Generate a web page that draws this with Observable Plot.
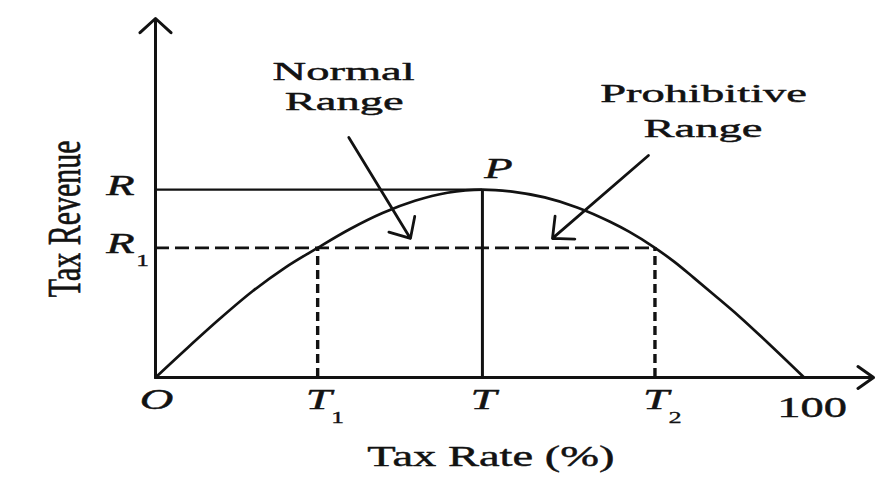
<!DOCTYPE html>
<html>
<head>
<meta charset="utf-8">
<script src="https://cdn.jsdelivr.net/npm/d3@7"></script>
<script src="https://cdn.jsdelivr.net/npm/@observablehq/plot@0.6"></script>
<style>
  html, body { margin: 0; padding: 0; background: #fff; }
  #chart { width: 876px; height: 479px; }
</style>
</head>
<body>
<div id="chart"></div>
<script>
// ---- data (Laffer curve) ----
const taxRate = [0, 5, 10, 15, 20, 25, 30, 35, 40, 45, 50.4, 55, 60, 65, 70, 73, 77, 80, 83, 86, 90, 95, 100];
const revenue = [0, 16, 31.5, 46, 58.5, 69, 79, 87.5, 94, 98.3, 100, 98.9, 95.8, 90.5, 83, 77.6, 69, 61.5, 53, 44.3, 32.5, 16.5, 0];

const R = 100, R1 = 69;
const T1 = 25, T = 50.4, T2 = 77;

const xTickValues = [0, T1, T, T2, 100];
const xTickLabels = ["O", "T", "T", "T", "100"];
const xTickSubs = ["", "1", "", "2", ""];

const yTickValues = [R, R1];
const yTickLabels = ["R", "R"];
const yTickSubs = ["", "1"];

const noteLines = ["Normal", "Range", "Prohibitive", "Range"];
const noteX = [29.0, 29.1, 84.5, 84.4];
const noteY = [162.5, 147.0, 151.1, 132.5];

const pointerFromX = [29.8, 76.0];
const pointerFromY = [127.7, 118.1];
const pointerToX = [39.3, 61.2];
const pointerToY = [74.0, 74.0];

const peakLabel = "P";
const xTitle = "Tax Rate (%)";
const yTitle = "Tax Revenue";
const xAxisEnd = 110.7, yAxisEnd = 191;

// ---- tables built from the arrays ----
const curve = taxRate.map((x, i) => ({x, y: revenue[i]}));
const xTicks = xTickValues.map((v, i) => ({v, label: xTickLabels[i], sub: xTickSubs[i]}));
const yTicks = yTickValues.map((v, i) => ({v, label: yTickLabels[i], sub: yTickSubs[i]}));
const notes = noteLines.map((t, i) => ({t, x: noteX[i], y: noteY[i]}));
const pointers = pointerFromX.map((x1, i) => ({x1, y1: pointerFromY[i], x2: pointerToX[i], y2: pointerToY[i]}));

const ink = "#121212";
const serif = "'Liberation Serif', 'Times New Roman', 'DejaVu Serif', serif";
const heavy = {fill: ink, stroke: ink, strokeWidth: 0.45};

const chart = Plot.plot({
  width: 876,
  height: 479,
  marginLeft: 155,
  marginRight: 1,
  marginTop: 18,
  marginBottom: 102,
  x: {domain: [0, 111], axis: null},
  y: {domain: [0, 191], axis: null},
  style: {background: "#fff", fontFamily: serif, overflow: "visible"},
  marks: [
    // guide lines
    Plot.ruleY([R], {x1: 0, x2: T, stroke: ink, strokeWidth: 2.3}),
    Plot.ruleX([T], {y1: 0, y2: R, stroke: ink, strokeWidth: 3}),
    Plot.ruleY([R1], {x1: 0, x2: T2, stroke: ink, strokeWidth: 2.7, strokeDasharray: "14,6"}),
    Plot.ruleX([T1, T2], {y1: 0, y2: R1, stroke: ink, strokeWidth: 3.4, strokeDasharray: "9,5"}),
    // curve
    Plot.line(curve, {x: "x", y: "y", curve: "monotone-x", stroke: ink, strokeWidth: 2.7}),
    // axes with arrowheads
    Plot.arrow([{x1: 0, y1: 0, x2: 0, y2: yAxisEnd}], {x1: "x1", y1: "y1", x2: "x2", y2: "y2", stroke: ink, strokeWidth: 3, headLength: 10.5, headAngle: 95}),
    Plot.arrow([{x1: 0, y1: 0, x2: xAxisEnd, y2: 0}], {x1: "x1", y1: "y1", x2: "x2", y2: "y2", stroke: ink, strokeWidth: 3, headLength: 9.5, headAngle: 70}),
    // annotation pointers
    Plot.arrow(pointers, {x1: "x1", y1: "y1", x2: "x2", y2: "y2", stroke: ink, strokeWidth: 2.8, headLength: 12, headAngle: 85}),
    // annotation text
    Plot.text(notes, {x: "x", y: "y", text: "t", fontSize: 26, ...heavy, textAnchor: "middle", lineAnchor: "middle"}),
    // peak label
    Plot.text([{x: T, y: R, t: peakLabel}], {x: "x", y: "y", text: "t", fontSize: 30, fontStyle: "italic", ...heavy, dx: 16, dy: -21, lineAnchor: "middle"}),
    // x tick labels (italic letters, upright 100)
    Plot.text(xTicks.filter((d) => d.label !== "100"), {x: "v", y: () => 0, text: "label", fontSize: 30, fontStyle: "italic", ...heavy, dx: 1, dy: 22, lineAnchor: "middle"}),
    Plot.text(xTicks.filter((d) => d.sub), {x: "v", y: () => 0, text: "sub", fontSize: 17, ...heavy, strokeWidth: 0.3, dx: 20, dy: 40, lineAnchor: "middle"}),
    Plot.text(xTicks.filter((d) => d.label === "100"), {x: "v", y: () => 0, text: "label", fontSize: 30, ...heavy, dx: 8, dy: 30, lineAnchor: "middle"}),
    // y tick labels
    Plot.text(yTicks, {x: () => 0, y: "v", text: "label", fontSize: 30, fontStyle: "italic", ...heavy, dx: -35, dy: -4, lineAnchor: "middle"}),
    Plot.text(yTicks.filter((d) => d.sub), {x: () => 0, y: "v", text: "sub", fontSize: 17, ...heavy, strokeWidth: 0.3, dx: -13, dy: 13, lineAnchor: "middle"}),
    // axis titles
    Plot.text([{x: 51.7, y: -42, t: xTitle}], {x: "x", y: "y", text: "t", fontSize: 30, ...heavy, lineAnchor: "middle"}),
    Plot.text([{x: -14.0, y: 84.4, t: yTitle}], {x: "x", y: "y", text: "t", fontSize: 30, ...heavy, rotate: -90, lineAnchor: "middle"})
  ]
});

// The reference is horizontally stretched; widen the glyphs to match.
for (const t of chart.querySelectorAll("text")) {
  const fs = +(t.closest("[font-size]")?.getAttribute("font-size") || 30);
  const stretch = fs === 26 ? 1.79 : 1.55;
  const tr = t.getAttribute("transform");
  if (tr && tr.includes("translate(")) {
    t.setAttribute("transform", tr.replace(/translate\(([^)]*)\)/, `translate($1) scale(${stretch},1)`));
  } else {
    const x = +t.getAttribute("x") || 0, y = +t.getAttribute("y") || 0;
    t.setAttribute("x", 0); t.setAttribute("y", 0);
    t.setAttribute("transform", `translate(${x},${y}) scale(${stretch},1)`);
  }
}
document.getElementById("chart").appendChild(chart);
</script>
</body>
</html>
